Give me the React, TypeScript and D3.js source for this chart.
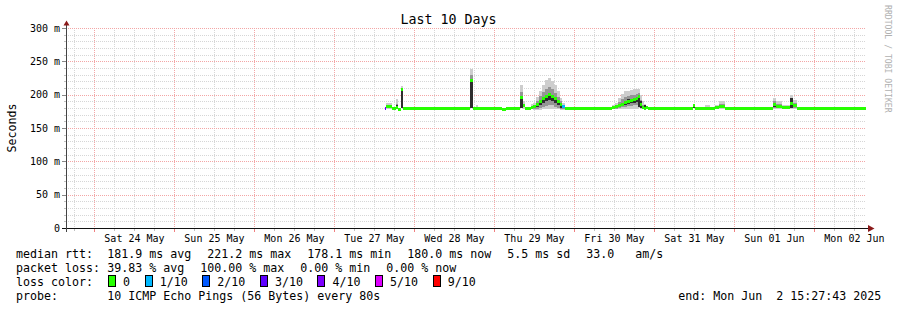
import React from 'react';
import * as d3 from 'd3';

const W = 897;
const H = 310;
const FONT = '"DejaVu Sans Mono", monospace';

// ---- data (ms) ----
const sampleTimes = [
  '05-27 15:09', '05-27 15:36', '05-27 17:15', '05-27 18:27', '05-27 19:12', '05-27 20:06', '05-27 20:42',
  '05-28 10:39', '05-28 11:15', '05-28 16:48', '05-28 17:42', '05-28 18:27', '05-28 19:03',
  '05-29 02:15', '05-29 03:27', '05-29 07:39', '05-29 08:33', '05-29 09:18',
  '05-29 10:57', '05-29 11:33', '05-29 12:27', '05-29 13:21', '05-29 14:15', '05-29 15:09', '05-29 16:03',
  '05-29 16:57', '05-29 17:51', '05-29 18:45', '05-29 19:39', '05-29 20:24', '05-29 21:18',
  '05-30 11:15', '05-30 12:09', '05-30 13:03', '05-30 13:57', '05-30 14:51', '05-30 15:45', '05-30 16:39',
  '05-30 17:33', '05-30 18:27', '05-30 19:12', '05-30 19:48', '05-30 20:24', '05-30 20:51', '05-30 21:27', '05-30 22:03',
  '05-31 11:33', '05-31 12:09', '05-31 15:09', '05-31 16:39', '05-31 18:09', '05-31 19:21', '05-31 21:09',
  '06-01 09:45', '06-01 11:33', '06-01 12:27', '06-01 14:15', '06-01 16:39', '06-01 17:33', '06-01 18:45',
  '06-02 15:27',
];
const medianMs = [
  180, 182, 179, 181, 177.5, 208, 180,
  179, 180, 221, 180, 180, 180,
  177.5, 180, 196, 184, 180,
  181, 182, 185, 190, 194, 197, 201,
  197, 194, 190, 186, 183, 180,
  181, 182, 184, 186, 189, 190, 191,
  193, 194, 197, 186, 181, 180, 181, 180,
  184, 180, 179.5, 180, 181, 183, 180,
  179, 186, 183, 180.5, 187, 184, 180,
  180,
];
const lossTenths = [
  3, 0, 0, 0, 0, 0, 0,
  0, 0, 0, 0, 0, 0,
  0, 0, 0, 0, 0,
  0, 0, 0, 0, 0, 0, 0,
  0, 0, 0, 0, 1, 0,
  0, 0, 0, 0, 0, 0, 0,
  0, 0, 0, 0, 0, 0, 0, 0,
  0, 0, 0, 0, 0, 0, 0,
  0, 0, 0, 0, 0, 0, 0,
  0,
];
const N = null;
const outerLoMs = [
  N, 179, N, 179, N, 180, N,
  N, N, 180, N, 179, N,
  N, N, 180, 179, N,
  178, 177, 177, 177, 178, 178, 179,
  179, 178, 178, 177, 177, N,
  178, 178, 178, 178, 178, 178, 178,
  179, 179, 180, 178, 178, 177, 178, N,
  180, N, 179, N, 179, 179, N,
  N, 178, 178, 178, 178, 178, N,
  N,
];
const outerHiMs = [
  N, 188, N, 193, N, 213, N,
  N, N, 238, N, 185, N,
  N, N, 214, 190, N,
  186, 188, 197, 206, 215, 222, 225,
  221, 214, 205, 195, 188, N,
  184, 188, 195, 201, 205, 206, 207,
  208, 209, 208, 200, 190, 186, 183, N,
  186, N, 184, N, 184, 190, N,
  N, 195, 191, 184, 199, 192, N,
  N,
];
const midLoMs = [
  N, N, N, 180, N, 180, N,
  N, N, 180, N, N, N,
  N, N, 180, N, N,
  N, 179, 179, 180, 182, 183, 185,
  184, 182, 180, 179, 179, N,
  N, 179, 180, 181, 182, 183, 183,
  184, 184, 185, 180, 179, N, N, N,
  N, N, N, N, N, 180, N,
  N, 180, 180, N, 180, 180, N,
  N,
];
const midHiMs = [
  N, N, N, 186, N, 210, N,
  N, N, 230, N, N, N,
  N, N, 204, N, N,
  N, 185, 191, 198, 204, 208, 212,
  208, 202, 196, 190, 184, N,
  N, 185, 189, 193, 197, 198, 199,
  200, 201, 202, 192, 184, N, N, N,
  N, N, N, N, N, 186, N,
  N, 190, 186, N, 192, 187, N,
  N,
];
const coreLoMs = [
  N, N, N, 180, N, 180, N,
  N, N, 180, N, N, N,
  N, N, 180, N, N,
  N, N, 181, 184, 188, 190, 192,
  190, 187, 184, 180, N, N,
  N, N, 181, 183, 185, 186, 187,
  188, 189, 182, 180, N, 177, 178, N,
  180, N, N, N, N, N, N,
  N, 181, N, N, 180, N, N,
  N,
];
const coreHiMs = [
  N, N, N, 184, N, 208, N,
  N, N, 221, N, N, N,
  N, N, 196, N, N,
  N, N, 186, 192, 196, 199, 203,
  200, 196, 192, 187, N, N,
  N, N, 186, 188, 191, 193, 194,
  195, 197, 197, 190, N, 184, 182, N,
  184, N, N, N, N, N, N,
  N, 186, N, N, 195, N, N,
  N,
];

const yMajorTicks = [0, 50, 100, 150, 200, 250, 300];
const yMinorStep = 10;

const lossLevels = [0, 1, 2, 3, 4, 5, 9];
const lossLabels = ['0', '1/10', '2/10', '3/10', '4/10', '5/10', '9/10'];
const lossColors = ['#26ff00', '#00b8ff', '#0059ff', '#5e00ff', '#7e00ff', '#dd00ff', '#ff0000'];

const rttStats = ['181.9 ms avg', '221.2 ms max', '178.1 ms min', '180.0 ms now', '5.5 ms sd', '33.0   am/s'];
const lossStats = ['39.83 % avg', '100.00 % max', '0.00 % min', '0.00 % now'];
const probeText = '10 ICMP Echo Pings (56 Bytes) every 80s';
const endText = 'end: Mon Jun  2 15:27:43 2025';
const titleText = 'Last 10 Days';

const startTime = new Date(2025, 4, 23, 15, 27, 43);
const endTime = new Date(2025, 5, 2, 15, 27, 43);

export default function App() {
  const parse = d3.timeParse('%Y-%m-%d %H:%M');
  const times = sampleTimes.map((s) => parse('2025-' + s) as Date);

  const x = d3.scaleTime().domain([startTime, endTime]).range([66, 866]);
  const y = d3.scaleLinear().domain([0, 300]).range([228, 28]);
  const lossColor = d3.scaleOrdinal<number, string>().domain(lossLevels).range(lossColors);

  const sixHours = d3.timeHour.every(6)!.range(startTime, endTime);
  const minorV = sixHours.filter((d) => d.getHours() !== 0);
  const majorV = sixHours.filter((d) => d.getHours() === 0);
  const days = d3.timeDay.range(d3.timeDay.ceil(startTime), endTime);
  const dayFmt = d3.timeFormat('%a %d %b');

  const yMinor = d3.range(0, 301, yMinorStep).filter((v) => v % 50 !== 0);

  const x0 = 66;
  const x1 = 866;
  const CW = 7; // legend char width

  const bands: [Array<number | null>, Array<number | null>, string][] = [
    [outerLoMs, outerHiMs, '#cdcdcd'],
    [midLoMs, midHiMs, '#959595'],
    [coreLoMs, coreHiMs, '#2e2e2e'],
  ];

  const rects: any[] = [];
  for (let i = 0; i < times.length - 1; i++) {
    const xa = x(times[i]);
    const xb = x(times[i + 1]);
    bands.forEach(([lo, hi, col], b) => {
      const l = lo[i];
      const h = hi[i];
      if (l != null && h != null && h > l) {
        rects.push(
          <rect key={`s${b}-${i}`} x={xa} width={xb - xa} y={y(h)} height={y(l) - y(h)} fill={col} />
        );
      }
    });
  }
  const medRects = times.slice(0, -1).map((t, i) => {
    const xa = x(t);
    const xb = x(times[i + 1]);
    return (
      <rect key={`m${i}`} x={xa} width={xb - xa} y={y(medianMs[i]) - 1.5} height={3} fill={lossColor(lossTenths[i])} />
    );
  });

  // legend layout
  let px = 107.3;
  const rttPos = rttStats.map((s) => {
    const p = px;
    px += s.length * CW + 16;
    return p;
  });
  px = 107.3;
  const lossPos = lossStats.map((s) => {
    const p = px;
    px += s.length * CW + 16;
    return p;
  });
  let bx = 108.5;
  const boxPos = lossLabels.map((s) => {
    const p = bx;
    bx += 14.6 + s.length * CW + 15;
    return p;
  });

  const gy = (v: number) => Math.round(y(v)) + 0.5;
  const gx = (d: Date) => Math.round(x(d)) + 0.5;

  return (
    <svg width={W} height={H} style={{ position: 'absolute', left: 0, top: 0, background: '#fff' }} fontFamily={FONT}>
      <rect x={0} y={0} width={W} height={H} fill="#fff" />
      {/* grid */}
      <g shapeRendering="crispEdges" strokeDasharray="1,1">
        {yMinor.map((v) => (
          <line key={`hy${v}`} x1={x0} x2={x1} y1={gy(v)} y2={gy(v)} stroke="#d6d6d6" />
        ))}
        {minorV.map((d, i) => (
          <line key={`vx${i}`} x1={gx(d)} x2={gx(d)} y1={28} y2={228} stroke="#d6d6d6" />
        ))}
        {yMajorTicks.filter((v) => v > 0).map((v) => (
          <line key={`HY${v}`} x1={x0} x2={x1} y1={gy(v)} y2={gy(v)} stroke="#f3a6a6" />
        ))}
        {majorV.map((d, i) => (
          <line key={`VX${i}`} x1={gx(d)} x2={gx(d)} y1={28} y2={228} stroke="#f3a6a6" />
        ))}
      </g>
      {/* ticks */}
      <g shapeRendering="crispEdges">
        {minorV.map((d, i) => (
          <line key={`tx${i}`} x1={gx(d)} x2={gx(d)} y1={229} y2={231} stroke="#c0c0c0" />
        ))}
        {majorV.map((d, i) => (
          <line key={`TX${i}`} x1={gx(d)} x2={gx(d)} y1={229} y2={232} stroke="#f08080" />
        ))}
        {yMinor.map((v) => (
          <line key={`ty${v}`} x1={64} x2={66} y1={gy(v)} y2={gy(v)} stroke="#c0c0c0" />
        ))}
        {yMajorTicks.map((v) => (
          <line key={`TY${v}`} x1={62} x2={66} y1={gy(v)} y2={gy(v)} stroke="#888888" />
        ))}
      </g>
      {/* data */}
      <g shapeRendering="crispEdges">{rects}</g>
      <g shapeRendering="crispEdges">{medRects}</g>
      {/* axes */}
      <g shapeRendering="crispEdges">
        <line x1={62} x2={869} y1={228.5} y2={228.5} stroke="#111" />
        <line x1={66.5} x2={66.5} y1={232} y2={25} stroke="#444" />
      </g>
      <path d="M63.5,25.5 L69.5,25.5 L66.5,20.5 Z" fill="#8b1a1a" />
      <path d="M868,225 L868,232 L874.5,228.5 Z" fill="#8b1a1a" />
      {/* y labels */}
      {yMajorTicks.map((v) => (
        <text key={`yl${v}`} x={60} y={y(v) + 3.5} fontSize={10} textAnchor="end" fill="#000">
          {v === 0 ? '0' : `${v} m`}
        </text>
      ))}
      {/* x labels */}
      {days.map((d, i) => (
        <text key={`xl${i}`} x={x(d3.timeHour.offset(d, 12))} y={241.5} fontSize={10} textAnchor="middle" fill="#000">
          {dayFmt(d)}
        </text>
      ))}
      {/* title */}
      <text x={448.5} y={23.5} fontSize={13.3} textAnchor="middle" fill="#000">{titleText}</text>
      {/* y axis title */}
      <text transform="translate(15.5,128) rotate(-90)" fontSize={11.6} textAnchor="middle" fill="#000">Seconds</text>
      {/* watermark */}
      <text transform="translate(884.5,5) rotate(90)" fontSize={8.15} fill="#b0b0b0">RRDTOOL / TOBI OETIKER</text>
      {/* legend */}
      <g fontSize={11.63} fill="#000" style={{ whiteSpace: 'pre' }}>
        <text x={16} y={258}>median rtt:</text>
        {rttStats.map((s, i) => (
          <text key={`r${i}`} x={rttPos[i]} y={258} xmlSpace="preserve">{s}</text>
        ))}
        <text x={16} y={272}>packet loss:</text>
        {lossStats.map((s, i) => (
          <text key={`p${i}`} x={lossPos[i]} y={272} xmlSpace="preserve">{s}</text>
        ))}
        <text x={16} y={286}>loss color:</text>
        {lossLabels.map((s, i) => (
          <g key={`lc${i}`}>
            <rect x={boxPos[i]} y={275.5} width={7} height={11} fill={lossColors[i]} stroke="#000" shapeRendering="crispEdges" />
            <text x={boxPos[i] + 14.6} y={286}>{s}</text>
          </g>
        ))}
        <text x={16} y={300}>probe:</text>
        <text x={107.3} y={300}>{probeText}</text>
        <text x={678.3} y={300} xmlSpace="preserve">{endText}</text>
      </g>
    </svg>
  );
}
